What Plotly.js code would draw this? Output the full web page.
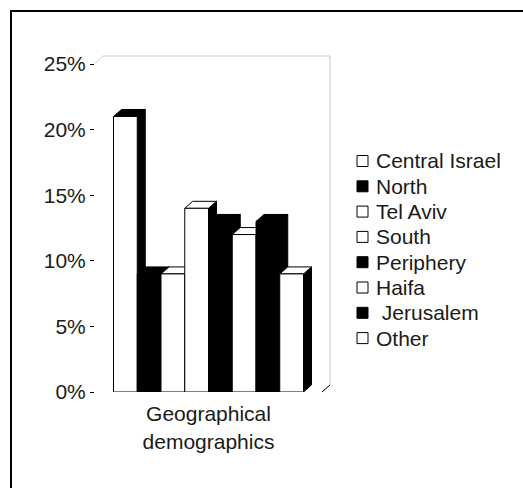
<!DOCTYPE html>
<html>
<head>
<meta charset="utf-8">
<script src="https://cdn.plot.ly/plotly-3.0.1.min.js"></script>
<style>
  html, body { margin: 0; padding: 0; background: #fff; }
  #wrap { position: relative; width: 523px; height: 488px; overflow: hidden; }
  #chart { position: absolute; left: 0; top: 0; width: 523px; height: 488px; }
  #frame { position: absolute; left: 10px; top: 10px; width: 700px; height: 700px;
           border-top: 2px solid #000; border-left: 2px solid #000; pointer-events: none; }
</style>
</head>
<body>
<div id="wrap">
  <div id="chart"></div>
  <div id="frame"></div>
</div>
<script>
// ---- data ----
var categories = ["Central Israel", "North", "Tel Aviv", "South", "Periphery", "Haifa", "Jerusalem", "Other"];
var values = [21, 9, 9, 14, 13, 12, 13, 9];           // percent
var groupLabel = "Geographical<br>demographics";
var yTicks = [0, 5, 10, 15, 20, 25];
var yTickLabels = ["0%", "5%", "10%", "15%", "20%", "25%"];

// ---- style ----
var frontColors = ["#ffffff", "#000000", "#ffffff", "#ffffff", "#000000", "#ffffff", "#000000", "#ffffff"];
var topColors   = ["#000000", "#000000", "#ffffff", "#ffffff", "#000000", "#ffffff", "#000000", "#ffffff"];
var FONT = "Liberation Sans, Arial, sans-serif";
var FS = 21;
var TXT = "#1a1a1a";
var L = 95, R = 201, T = 64, B = 96;
var plotW = 523 - L - R, plotH = 488 - T - B;
var groupWidth = 0.837;
var w = groupWidth / categories.length;
var dx = 8 / plotW;            // depth in x units (axis range is 1 wide)
var dy = 7 / plotH * 25;       // depth in y units
function pxX(p) { return (p - L) / plotW; }
function pxY(p) { return 1 - (p - T) / plotH; }

var traces = [];
categories.forEach(function (name, i) {
  var v = values[i];
  var x0 = -groupWidth / 2 + i * w;
  traces.push({
    type: "scatter", mode: "lines", fill: "toself",
    x: [x0 + w, x0 + w + dx, x0 + w + dx, x0 + w, x0 + w],
    y: [0, dy, v + dy, v, 0],
    fillcolor: "#000", line: { color: "#000", width: 1 },
    showlegend: false, hoverinfo: "skip", zorder: 3 * i
  });
  traces.push({
    type: "scatter", mode: "lines", fill: "toself",
    x: [x0, x0 + w, x0 + w + dx, x0 + dx, x0],
    y: [v, v, v + dy, v + dy, v],
    fillcolor: topColors[i], line: { color: "#000", width: 1 },
    showlegend: false, hoverinfo: "skip", zorder: 3 * i + 1
  });
  traces.push({
    type: "bar", name: name,
    x: [0], y: [v], offset: x0, width: w,
    marker: { color: frontColors[i], line: { color: "#000", width: 1 } },
    showlegend: false, zorder: 3 * i + 2
  });
});

// custom legend (Excel-style tight spacing)
var annotations = [], shapes = [];
var legTop = 161, legStep = 25.3;
categories.forEach(function (name, i) {
  var cy = legTop + i * legStep;
  annotations.push({
    xref: "paper", yref: "paper", x: pxX(374), y: pxY(cy),
    xanchor: "left", yanchor: "middle", showarrow: false,
    text: (name === "Jerusalem" ? "\u00a0" : "") + name,
    font: { family: FONT, size: FS, color: TXT }
  });
  shapes.push({
    type: "rect", xref: "paper", yref: "paper",
    x0: pxX(357), x1: pxX(368), y0: pxY(cy - 5.5), y1: pxY(cy + 5.5),
    fillcolor: frontColors[i], line: { color: "#000", width: 1 }
  });
});

shapes.push(
  { type: "line", xref: "paper", yref: "paper", x0: pxX(L + 8), y0: pxY(T - 8), x1: pxX(L + plotW + 8), y1: pxY(T - 8), line: { color: "#d9d9d9", width: 1.5 } },
  { type: "line", xref: "paper", yref: "paper", x0: pxX(L + plotW + 8), y0: pxY(T + plotH - 7), x1: pxX(L + plotW + 8), y1: pxY(T - 8), line: { color: "#d9d9d9", width: 1.5 } },
  { type: "line", xref: "paper", yref: "paper", x0: 0, y0: 1, x1: pxX(L + 8), y1: pxY(T - 8), line: { color: "#d9d9d9", width: 1 } },
  { type: "line", xref: "paper", yref: "paper", x0: 1, y0: 0, x1: pxX(L + plotW + 8), y1: pxY(T + plotH - 7), line: { color: "#000", width: 1 } }
);

var layout = {
  width: 523, height: 488,
  margin: { l: L, r: R, t: T, b: B, pad: 0 },
  paper_bgcolor: "#fff", plot_bgcolor: "rgba(0,0,0,0)",
  barmode: "overlay",
  showlegend: false,
  font: { family: FONT, size: FS, color: TXT },
  xaxis: {
    range: [-0.5, 0.5], tickmode: "array", tickvals: [0], ticktext: [groupLabel],
    showline: true, linecolor: "#000", linewidth: 1,
    ticks: "", showgrid: false, zeroline: false, fixedrange: true,
    ticklabelstandoff: 3,
    tickfont: { family: FONT, size: FS, color: TXT }
  },
  yaxis: {
    range: [0, 25], tickmode: "array", tickvals: yTicks, ticktext: yTickLabels,
    showline: true, linecolor: "#000", linewidth: 1,
    ticks: "outside", ticklen: 4, tickcolor: "#000",
    showgrid: false, zeroline: false, fixedrange: true,
    tickfont: { family: FONT, size: FS, color: TXT }
  },
  annotations: annotations,
  shapes: shapes
};

Plotly.newPlot("chart", traces, layout, { displayModeBar: false, staticPlot: true });
</script>
</body>
</html>
